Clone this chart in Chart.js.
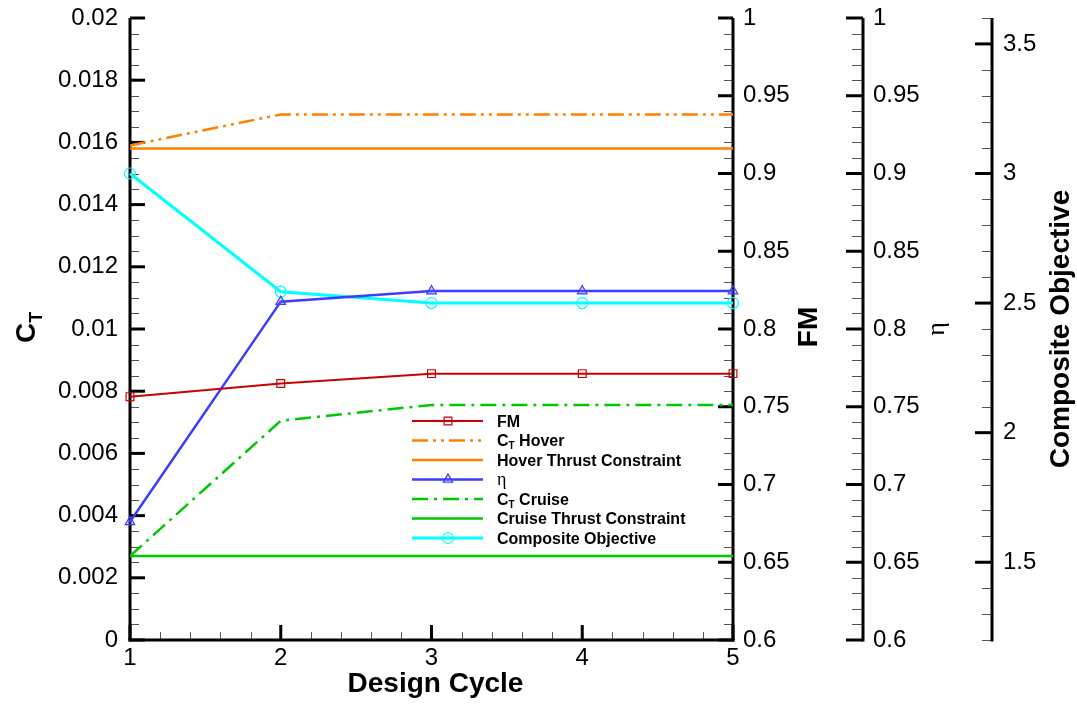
<!DOCTYPE html>
<html><head><meta charset="utf-8">
<script src="https://cdn.jsdelivr.net/npm/chart.js@4.4.1/dist/chart.umd.min.js"></script>
<style>html,body{margin:0;padding:0;background:#fff;}canvas{display:block;}</style>
</head><body>
<canvas id="c" width="1077" height="708"></canvas>
<script>
// ---- data ----
const cycles = [1, 2, 3, 4, 5];
const fmValues = [0.7565, 0.765, 0.7713, 0.7713, 0.7713];
const ctHover = [0.0159, 0.0169, 0.0169, 0.0169, 0.0169];
const hoverConstraint = [0.0158, 0.0158, 0.0158, 0.0158, 0.0158];
const etaValues = [0.676, 0.8176, 0.8244, 0.8244, 0.8244];
const ctCruise = [0.0027, 0.00705, 0.00756, 0.00756, 0.00756];
const cruiseConstraint = [0.0027, 0.0027, 0.0027, 0.0027, 0.0027];
const composite = [3.0, 2.544, 2.5, 2.5, 2.5];

// ---- tick labels ----
const xTicks = [1, 2, 3, 4, 5];
const ctTicks = [0, 0.002, 0.004, 0.006, 0.008, 0.01, 0.012, 0.014, 0.016, 0.018, 0.02];
const fmTicks = [0.6, 0.65, 0.7, 0.75, 0.8, 0.85, 0.9, 0.95, 1];
const etaTicks = [0.6, 0.65, 0.7, 0.75, 0.8, 0.85, 0.9, 0.95, 1];
const compTicks = [1.5, 2, 2.5, 3, 3.5];

const SANS = '"Liberation Sans", Arial, Helvetica, sans-serif';
const SERIF = '"Liberation Serif", "Times New Roman", serif';
Chart.defaults.font.family = SANS;
Chart.defaults.color = '#000';

const RED = '#cc0000', ORANGE = '#ff8000', BLUE = '#3c3cff', GREEN = '#00c800', CYAN = '#00ffff';

const pts = vals => cycles.map((c, i) => ({x: c, y: vals[i]}));
const fmt = v => String(parseFloat(Number(v).toFixed(6)));
const setTicks = arr => s => { s.ticks = arr.map(v => ({value: v})); };
const noPad = s => { s.paddingTop = 0; s.paddingBottom = 0; s.paddingLeft = 0; s.paddingRight = 0; };

function yScale(min, max, ticksArr, pos, width, pad) {
  return {
    type: 'linear', position: pos, min: min, max: max,
    afterBuildTicks: setTicks(ticksArr),
    afterFit: s => { s.width = width; noPad(s); },
    grid: {display: false, drawTicks: false}, border: {display: false},
    ticks: {font: {size: 24}, color: '#000', padding: pad, callback: fmt, autoSkip: false}
  };
}

const tickPlugin = {
  id: 'axisTicks',
  beforeDatasetsDraw(chart) {
    const ctx = chart.ctx, a = chart.chartArea, S = chart.scales;
    ctx.save();
    ctx.lineCap = 'butt';
    const line = (x1, y1, x2, y2, w, c) => {
      ctx.beginPath(); ctx.lineWidth = w; ctx.strokeStyle = c || '#000';
      ctx.moveTo(x1, y1); ctx.lineTo(x2, y2); ctx.stroke();
    };
    const range = (min, max, step) => {
      const out = []; const n = Math.round((max - min) / step);
      for (let i = 0; i <= n; i++) out.push(min + i * step);
      return out;
    };
    const vaxes = [
      [S.y, a.left, 1, ctTicks, 0.0005, 15, 9],
      [S.fm, a.right, -1, fmTicks, 0.01, 15, 9],
      [S.eta, S.eta.left, -1, etaTicks, 0.01, 17, 11],
      [S.comp, S.comp.left, -1, compTicks, 0.1, 17, 10]
    ];
    for (const [s, x, dir, majors, mstep, ML, ml] of vaxes) {
      for (const v of range(s.min, s.max, mstep)) {
        const y = Math.round(s.getPixelForValue(v)) + 0.5;
        line(x, y, x + dir * ml, y, 1, '#555');
      }
      for (const v of majors) {
        const y = s.getPixelForValue(v);
        line(x, y, x + dir * ML, y, 3);
      }
      line(x, a.top, x, a.bottom + 1.5, 3);
    }
    const sx = S.x;
    for (const v of range(sx.min, sx.max, 0.2)) {
      const x = Math.round(sx.getPixelForValue(v)) + 0.5;
      line(x, a.bottom, x, a.bottom - 8, 1, '#555');
    }
    for (const v of xTicks) {
      const x = sx.getPixelForValue(v);
      line(x, a.bottom, x, a.bottom - 15, 3);
    }
    line(a.left - 1.5, a.bottom, a.right + 1.5, a.bottom, 3);
    ctx.restore();
  }
};

function drawLabel(ctx, label, x, y) {
  ctx.fillStyle = '#000';
  ctx.textAlign = 'left';
  ctx.textBaseline = 'alphabetic';
  const base = y + 5.7;
  if (label === 'η') {
    ctx.font = '18px ' + SERIF;
    ctx.fillText('η', x, base);
    return;
  }
  ctx.font = 'bold 16px ' + SANS;
  if (label.startsWith('C_T')) {
    ctx.fillText('C', x, base);
    let w = ctx.measureText('C').width;
    ctx.font = 'bold 10px ' + SANS;
    ctx.fillText('T', x + w, base + 3);
    w += ctx.measureText('T').width;
    ctx.font = 'bold 16px ' + SANS;
    ctx.fillText(label.slice(3), x + w, base);
  } else {
    ctx.fillText(label, x, base);
  }
}

const annotPlugin = {
  id: 'annot',
  afterDraw(chart) {
    const ctx = chart.ctx, a = chart.chartArea, S = chart.scales;
    const cy = (a.top + a.bottom) / 2;
    ctx.save();
    // legend
    const x0 = a.left + 282, x1 = a.left + 353, mx = a.left + 318, tx = a.left + 367;
    const rowY0 = 421, rowH = 19.5;
    chart.data.datasets.forEach((ds, i) => {
      const y = rowY0 + i * rowH;
      ctx.save();
      ctx.strokeStyle = ds.borderColor; ctx.lineWidth = ds.borderWidth;
      ctx.setLineDash(ds.borderDash || []);
      ctx.beginPath(); ctx.moveTo(x0, y); ctx.lineTo(x1, y); ctx.stroke();
      ctx.setLineDash([]);
      if (ds.pointRadius > 0) {
        ctx.strokeStyle = ds.pointBorderColor; ctx.fillStyle = ds.pointBackgroundColor;
        ctx.lineWidth = ds.pointBorderWidth;
        Chart.helpers.drawPoint(ctx, {pointStyle: ds.pointStyle, radius: ds.pointRadius, rotation: 0, borderWidth: ds.pointBorderWidth}, mx, y);
      }
      ctx.restore();
      drawLabel(ctx, ds.label, tx, y);
    });
    // axis titles
    ctx.fillStyle = '#000';
    ctx.font = 'bold 28px ' + SANS;
    ctx.textAlign = 'center'; ctx.textBaseline = 'alphabetic';
    ctx.fillText('Design Cycle', (a.left + a.right) / 2 + 4, 692);
    const rot = (x, y, fn) => { ctx.save(); ctx.translate(x, y); ctx.rotate(-Math.PI / 2); fn(); ctx.restore(); };
    rot(S.fm.left + 84, cy - 2, () => { ctx.font = 'bold 28px ' + SANS; ctx.textAlign = 'center'; ctx.fillText('FM', 0, 0); });
    rot(S.eta.left + 81, cy, () => { ctx.font = '26px ' + SERIF; ctx.textAlign = 'center'; ctx.fillText('η', 0, 0); });
    rot(S.comp.left + 77, cy, () => { ctx.font = 'bold 28px ' + SANS; ctx.textAlign = 'center'; ctx.fillText('Composite Objective', 0, 0); });
    rot(35, cy + 14, () => {
      ctx.textAlign = 'left';
      ctx.font = 'bold 28px ' + SANS; ctx.fillText('C', 0, 0);
      const w = ctx.measureText('C').width;
      ctx.font = 'bold 18px ' + SANS; ctx.fillText('T', w, 7);
    });
    ctx.restore();
  }
};

new Chart(document.getElementById('c'), {
  type: 'line',
  data: {
    datasets: [
      {label: 'FM', data: pts(fmValues), yAxisID: 'fm', borderColor: RED, borderWidth: 2,
       pointStyle: 'rect', pointRadius: 5.5, pointBorderColor: RED, pointBackgroundColor: 'rgba(0,0,0,0)', pointBorderWidth: 1.2, clip: false},
      {label: 'C_T Hover', data: pts(ctHover), yAxisID: 'y', borderColor: ORANGE, borderWidth: 2.5,
       borderDash: [16, 5, 3, 5, 3, 5], pointRadius: 0},
      {label: 'Hover Thrust Constraint', data: pts(hoverConstraint), yAxisID: 'y', borderColor: ORANGE, borderWidth: 2.5, pointRadius: 0},
      {label: 'η', data: pts(etaValues), yAxisID: 'eta', borderColor: BLUE, borderWidth: 2.5,
       pointStyle: 'triangle', pointRadius: 5.5, pointBorderColor: BLUE, pointBackgroundColor: 'rgba(100,100,255,0.3)', pointBorderWidth: 1.2, clip: false},
      {label: 'C_T Cruise', data: pts(ctCruise), yAxisID: 'y', borderColor: GREEN, borderWidth: 2.5,
       borderDash: [16, 6, 3, 6], pointRadius: 0},
      {label: 'Cruise Thrust Constraint', data: pts(cruiseConstraint), yAxisID: 'y', borderColor: GREEN, borderWidth: 2.5, pointRadius: 0},
      {label: 'Composite Objective', data: pts(composite), yAxisID: 'comp', borderColor: CYAN, borderWidth: 3,
       pointStyle: 'circle', pointRadius: 5.5, pointBorderColor: CYAN, pointBackgroundColor: 'rgba(0,0,0,0)', pointBorderWidth: 1.2, clip: false}
    ]
  },
  options: {
    responsive: false, animation: false,
    layout: {padding: {top: 18, left: 0, right: 0, bottom: 0}},
    elements: {line: {tension: 0}},
    plugins: {legend: {display: false}, tooltip: {enabled: false}},
    scales: {
      x: {type: 'linear', position: 'bottom', min: 1, max: 5,
          afterBuildTicks: setTicks(xTicks), afterFit: s => { s.height = 68; noPad(s); },
          grid: {display: false, drawTicks: false}, border: {display: false},
          ticks: {font: {size: 24}, color: '#000', padding: 4, maxRotation: 0, callback: fmt, autoSkip: false}},
      y: yScale(0, 0.02, ctTicks, 'left', 130, 12),
      fm: yScale(0.6, 1, fmTicks, 'right', 130, 10),
      eta: yScale(0.6, 1, etaTicks, 'right', 129, 10),
      comp: yScale(1.2, 3.6, compTicks, 'right', 85, 11)
    }
  },
  plugins: [tickPlugin, annotPlugin]
});
</script>
</body></html>
